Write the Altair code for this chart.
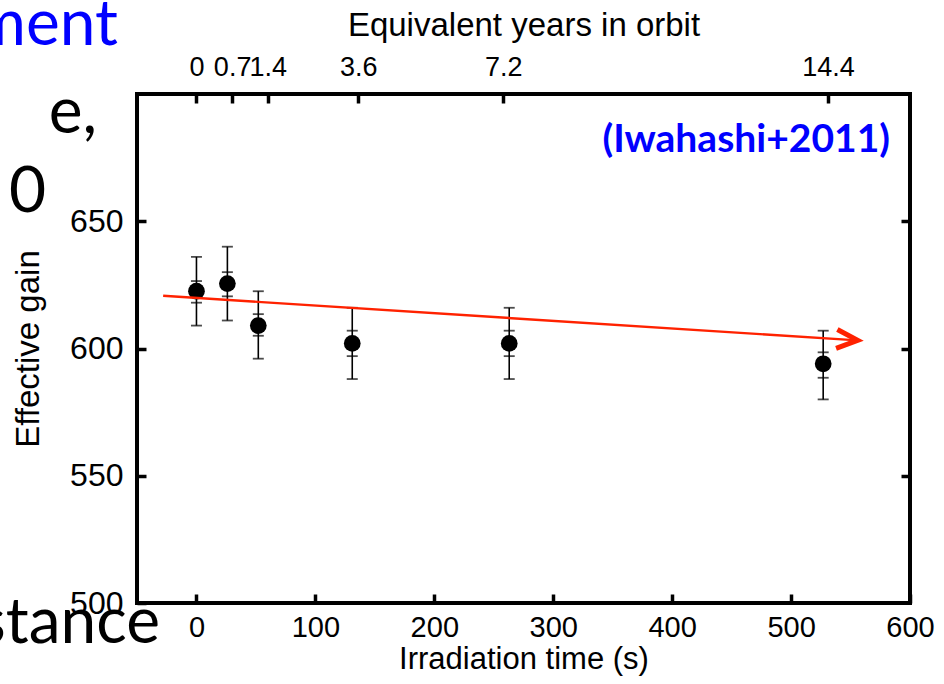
import altair as alt
import pandas as pd

# ---- data ----
irr_time = [0, 26, 52, 131, 263, 527]
gain = [622.5, 625.5, 609.0, 602.0, 602.0, 594.0]
outer_lo = [609.0, 611.0, 596.0, 588.0, 588.0, 580.0]
outer_hi = [636.0, 640.0, 622.5, 616.0, 616.0, 607.0]
inner_lo = [618.0, 620.5, 605.0, 597.0, 597.0, 588.5]
inner_hi = [626.5, 630.0, 613.5, 607.0, 607.0, 598.5]

x_ticks = [0, 100, 200, 300, 400, 500, 600]
y_ticks = [500, 550, 600, 650]
y_right_ticks = [550, 600, 650]
year_pos = [0, 30, 60, 136, 258, 531]
year_labels = ["0", "0.7", "1.4", "3.6", "7.2", "14.4"]

trend_x = [-28, 556]
trend_y = [620.7, 603.2]

ref_label = ["(Iwahashi+2011)"]
slide_texts = ["ment", "e,", "0", "stance"]

# ---- layout ----
W, H = 773, 509
PAD = {"left": 137, "top": 94, "right": 34, "bottom": 81}
FONT = "Liberation Sans"
RED = "#ff2200"
BLUE = "#0000ff"

xs = alt.Scale(domain=[-50, 600], nice=False, zero=False)
ys = alt.Scale(domain=[500, 700], nice=False, zero=False)

pts = pd.DataFrame({"t": irr_time, "g": gain, "lo": outer_lo, "hi": outer_hi})
caps = pd.DataFrame({
    "t": irr_time * 4,
    "v": outer_lo + outer_hi + inner_lo + inner_hi,
})
trend = pd.DataFrame({"t": trend_x, "g": trend_y})
tip = trend.tail(1)

common_axis = dict(grid=False, domain=False, tickColor="black", tickWidth=3.5,
                   tickSize=9, offset=-9, labelFont=FONT, labelColor="black",
                   titleFont=FONT, titleColor="black", titleFontWeight="normal",
                   labelFlush=False, labelOverlap=False, labelBound=False)

bottom_axis = alt.Axis(orient="bottom", values=x_ticks, title="Irradiation time (s)",
                       labelFontSize=29, titleFontSize=31, labelPadding=10,
                       titlePadding=2, **common_axis)
left_axis = alt.Axis(orient="left", values=y_ticks, title="Effective gain",
                     labelFontSize=32, titleFontSize=33, labelPadding=14,
                     titlePadding=24, **common_axis)
year_expr = " : ".join(f"datum.value == {p} ? '{l}'" for p, l in zip(year_pos, year_labels)) + " : ''"
top_axis = alt.Axis(orient="top", values=year_pos, labelExpr=year_expr,
                    title="Equivalent years in orbit",
                    labelFontSize=27, titleFontSize=33, labelPadding=13,
                    titlePadding=11, **common_axis)
right_axis = alt.Axis(orient="right", values=y_right_ticks, labels=False, title=None,
                      **common_axis)

err = alt.Chart(pts).mark_rule(color="black", strokeWidth=1.6).encode(
    x=alt.X("t:Q", scale=xs, axis=bottom_axis),
    y=alt.Y("lo:Q", scale=ys, axis=left_axis),
    y2="hi:Q",
)

dots = alt.Chart(pts).mark_circle(size=280, color="black", opacity=1).encode(
    x=alt.X("t:Q", scale=xs, axis=top_axis),
    y=alt.Y("g:Q", scale=ys, axis=right_axis),
)

cap_marks = alt.Chart(caps).mark_tick(orient="horizontal", color="black",
                                      size=11, thickness=1.8).encode(
    x=alt.X("t:Q", scale=xs, axis=None),
    y=alt.Y("v:Q", scale=ys, axis=None),
)

line = alt.Chart(trend).mark_line(color=RED, strokeWidth=2.4).encode(
    x=alt.X("t:Q", scale=xs, axis=None),
    y=alt.Y("g:Q", scale=ys, axis=None),
)

head = alt.Chart(tip).mark_point(shape="M-1,-0.45L0,0L-1,0.45", filled=False,
                                 color=RED, strokeWidth=5, size=1764, angle=4,
                                 opacity=1).encode(
    x=alt.X("t:Q", scale=xs, axis=None),
    y=alt.Y("g:Q", scale=ys, axis=None),
)

ref = alt.Chart(pd.DataFrame({"s": ref_label})).mark_text(
    align="right", baseline="middle", font="Lato", fontWeight="bold",
    fontSize=39, color=BLUE).encode(
    text="s:N", x=alt.value(890 - 137), y=alt.value(140 - 94))


def slide(txt, color, xr, yb):
    return alt.Chart(pd.DataFrame({"s": [txt]})).mark_text(
        align="right", baseline="alphabetic", font="Lato", fontSize=64,
        color=color).encode(text="s:N", x=alt.value(xr - 137), y=alt.value(yb - 94))


frags = (slide(slide_texts[0], BLUE, 118, 45) + slide(slide_texts[1], "black", 97, 133)
         + slide(slide_texts[2], "black", 46, 212) + slide(slide_texts[3], "black", 160, 643))

chart = alt.layer(err, dots, cap_marks, line, head, ref, frags).resolve_axis(
    x="independent", y="independent"
).properties(
    width=W, height=H, padding=PAD,
    autosize=alt.AutoSizeParams(type="none"),
    background="white",
).configure_view(stroke="black", strokeWidth=4)

chart.save("out.html", embed_options={"renderer": "svg", "actions": False})
